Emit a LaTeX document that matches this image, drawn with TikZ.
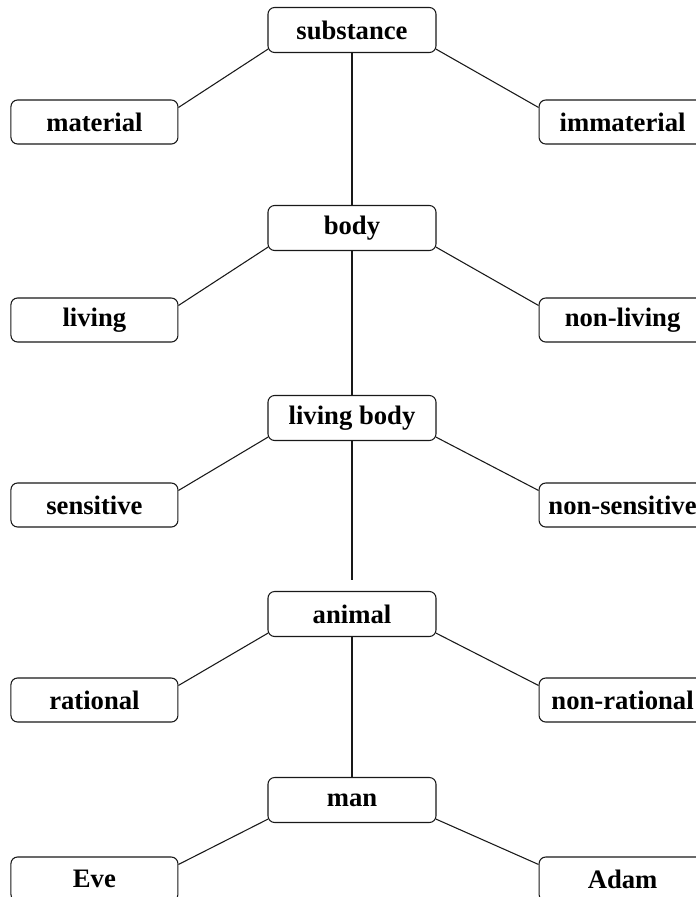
\documentclass[tikz,border=0pt]{standalone}
\usepackage{fontspec}
\setmainfont{Liberation Serif}
\usepackage{tikz}
\usetikzlibrary{positioning}

\begin{document}
\begin{tikzpicture}[
  x=0.75pt,y=-0.75pt,
  genus/.style={
    draw=black!90,
    line width=0.8pt,
    rounded corners=5pt,
    minimum width=126pt,
    minimum height=33.75pt,
    inner xsep=1pt,
    font=\bfseries\fontsize{20}{22}\selectfont
  },
  species/.style={
    genus,
    minimum width=125.25pt,
    minimum height=33pt
  },
  branch/.style={draw=black!90,line width=0.8pt}
]
\clip (0,0) rectangle (696,897);
\fill[white] (0,0) rectangle (696,897);
% trunk
\node[genus] (substance) at (352,30) {substance};
\node[genus] (body) at (352,228) {body};
\node[genus] (livingbody) at (352,418) {living body};
\node[genus] (animal) at (352,614) {animal};
\node[genus] (man) at (352,800) {man};
% differentiae
\node[species,left=66.75pt of substance,yshift=-69pt] (material) {material};
\node[species,right=76.5pt of substance,yshift=-69pt] (immaterial) {immaterial};
\node[species,left=66.75pt of body,yshift=-69pt] (living) {living};
\node[species,right=76.5pt of body,yshift=-69pt] (nonliving) {non-living};
\node[species,left=66.75pt of livingbody,yshift=-65.25pt] (sensitive) {sensitive};
\node[species,right=76.5pt of livingbody,yshift=-65.25pt] (nonsensitive) {non-sensitive};
\node[species,left=66.75pt of animal,yshift=-64.5pt] (rational) {rational};
\node[species,right=76.5pt of animal,yshift=-64.5pt] (nonrational) {non-rational};
\node[species,left=66.75pt of man,yshift=-59.25pt] (eve) {Eve};
\node[species,right=76.5pt of man,yshift=-59.25pt] (adam) {Adam};
\coordinate[above=8.25pt of animal] (gap);
% vertical lines
\draw[branch] (substance) -- (body);
\draw[branch] (body) -- (livingbody);
\draw[branch] (livingbody) -- (gap);
\draw[branch] (animal) -- (man);
% side branches
\foreach \hub/\lft/\rgt in {substance/material/immaterial,body/living/nonliving,
  livingbody/sensitive/nonsensitive,animal/rational/nonrational,man/eve/adam}{
  \draw[branch] ([xshift=0.5pt,yshift=3pt]\hub.south west) -- ([yshift=-6pt]\lft.north east);
  \draw[branch] ([xshift=-0.5pt,yshift=3pt]\hub.south east) -- ([yshift=-6pt]\rgt.north west);
}
\end{tikzpicture}
\end{document}
